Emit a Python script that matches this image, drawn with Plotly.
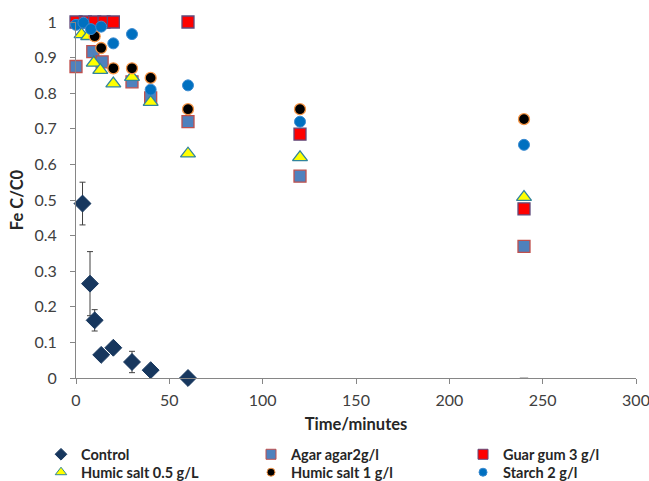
import plotly.graph_objects as go

# ---- data ----
control_x = [3.5, 7.5, 10, 13.5, 20, 30, 40, 60]
control_y = [0.49, 0.265, 0.162, 0.065, 0.085, 0.045, 0.022, 0.0]
control_err = [0.06, 0.09, 0.03, 0, 0, 0.03, 0, 0]
control_end_x = [240]
control_end_y = [0.0]

agar_x = [0, 9, 14, 30, 40, 60, 120, 240]
agar_y = [0.875, 0.917, 0.888, 0.832, 0.787, 0.72, 0.567, 0.37]

guar_x = [0, 5, 10, 15, 20, 60, 120, 240]
guar_y = [1.0, 1.0, 1.0, 1.0, 1.0, 1.0, 0.685, 0.475]

humic05_x = [3, 6.5, 9.5, 13, 20, 30, 40, 60, 120, 240]
humic05_y = [0.965, 0.96, 0.885, 0.865, 0.827, 0.845, 0.775, 0.63, 0.62, 0.508]

humic1_x = [10, 13.5, 20, 30, 40, 60, 120, 240]
humic1_y = [0.96, 0.927, 0.87, 0.87, 0.843, 0.755, 0.755, 0.727]

starch_x = [0, 4, 8, 13.5, 20, 30, 40, 60, 120, 240]
starch_y = [0.992, 0.998, 0.98, 0.987, 0.94, 0.966, 0.81, 0.822, 0.72, 0.655]

series_names = ["Control", "Agar agar2g/l", "Guar gum 3 g/l",
                "Humic salt 0.5 g/L", "Humic salt 1 g/l", "Starch 2 g/l"]

x_ticks = [0, 50, 100, 150, 200, 250, 300]
y_ticks = [0, 0.1, 0.2, 0.3, 0.4, 0.5, 0.6, 0.7, 0.8, 0.9, 1]

FONT = "Lato"
AXIS_COLOR = "#868686"

styles = [
    dict(symbol="diamond", size=13, color="#17375E", line=dict(color="#17375E", width=1)),
    dict(symbol="square", size=12, color="#4F81BD", line=dict(color="#C0504D", width=1.3)),
    dict(symbol="square", size=12, color="#FF0000", line=dict(color="#604A7B", width=1.3)),
    dict(symbol="triangle-up", size=13, color="#FFFF00", line=dict(color="#31859C", width=1.3)),
    dict(symbol="circle", size=11, color="#000000", line=dict(color="#F79646", width=1.3)),
    dict(symbol="circle", size=11, color="#0070C0", line=dict(color="#3A8AD0", width=1)),
]
legend_sizes = [9, 10, 10, 10, 8, 8]
xs = [control_x, agar_x, guar_x, humic05_x, humic1_x, starch_x]
ys = [control_y, agar_y, guar_y, humic05_y, humic1_y, starch_y]

fig = go.Figure()

for i, (name, st, x, y) in enumerate(zip(series_names, styles, xs, ys)):
    kw = {}
    if i == 0:
        kw["error_y"] = dict(type="data", array=control_err, visible=True,
                             color="#404040", thickness=1, width=3)
    fig.add_trace(go.Scatter(x=x, y=y, mode="markers", name=name,
                             marker=st, cliponaxis=False, showlegend=False, **kw))
    if i == 0:
        fig.add_trace(go.Scatter(
            x=control_end_x, y=control_end_y, mode="markers", showlegend=False,
            marker=dict(symbol="line-ew", size=6, color="#808080",
                        line=dict(color="#808080", width=1)),
            cliponaxis=False, hoverinfo="skip"))

# legend: one legend box per entry, laid out as 3 columns x 2 rows
legend_ids = ["legend", "legend2", "legend3", "legend4", "legend5", "legend6"]
for i, (name, st) in enumerate(zip(series_names, styles)):
    lst = dict(st)
    lst["size"] = legend_sizes[i]
    lst["line"] = dict(st["line"], width=1)
    fig.add_trace(go.Scatter(x=[None], y=[None], mode="markers", name=name,
                             marker=lst, showlegend=True, legend=legend_ids[i]))

col_x = [-0.0625, 0.3125, 0.6911]
row_y = [-0.1695, -0.2199]
legends = {}
for i, lid in enumerate(legend_ids):
    legends[lid] = dict(
        orientation="h", xanchor="left", yanchor="top",
        x=col_x[i % 3], y=row_y[i // 3],
        font=dict(family=FONT, size=14.5, color="#262626", weight="bold"),
        itemsizing="trace", bgcolor="rgba(0,0,0,0)",
    )

fig.update_layout(
    width=649, height=481,
    margin=dict(l=76, r=13, t=21.5, b=102.5, autoexpand=False),
    paper_bgcolor="white", plot_bgcolor="white",
    font=dict(family=FONT, size=16, color="#404040"),
    showlegend=True,
    **legends,
    xaxis=dict(
        range=[0, 300], tickvals=x_ticks, ticktext=[str(v) for v in x_ticks],
        showgrid=False, zeroline=False, showline=True, linecolor=AXIS_COLOR,
        linewidth=1, ticks="outside", ticklen=5, tickcolor=AXIS_COLOR,
        ticklabeloverflow="allow", ticklabelstandoff=3,
        tickfont=dict(family=FONT, size=16, color="#404040"),
        title=dict(text="Time/minutes", standoff=10,
                   font=dict(family=FONT, size=16.5, color="#262626", weight="bold")),
    ),
    yaxis=dict(
        range=[0, 1], tickvals=y_ticks, ticktext=[f"{v:g}" for v in y_ticks],
        showgrid=False, zeroline=False, showline=True, linecolor=AXIS_COLOR,
        linewidth=1, ticks="outside", ticklen=5, tickcolor=AXIS_COLOR,
        ticklabeloverflow="allow", ticklabelstandoff=10,
        tickfont=dict(family=FONT, size=16, color="#404040"),
        title=dict(text="Fe C/C0", standoff=6,
                   font=dict(family=FONT, size=16.5, color="#262626", weight="bold")),
    ),
)

fig.write_html("out.html")
